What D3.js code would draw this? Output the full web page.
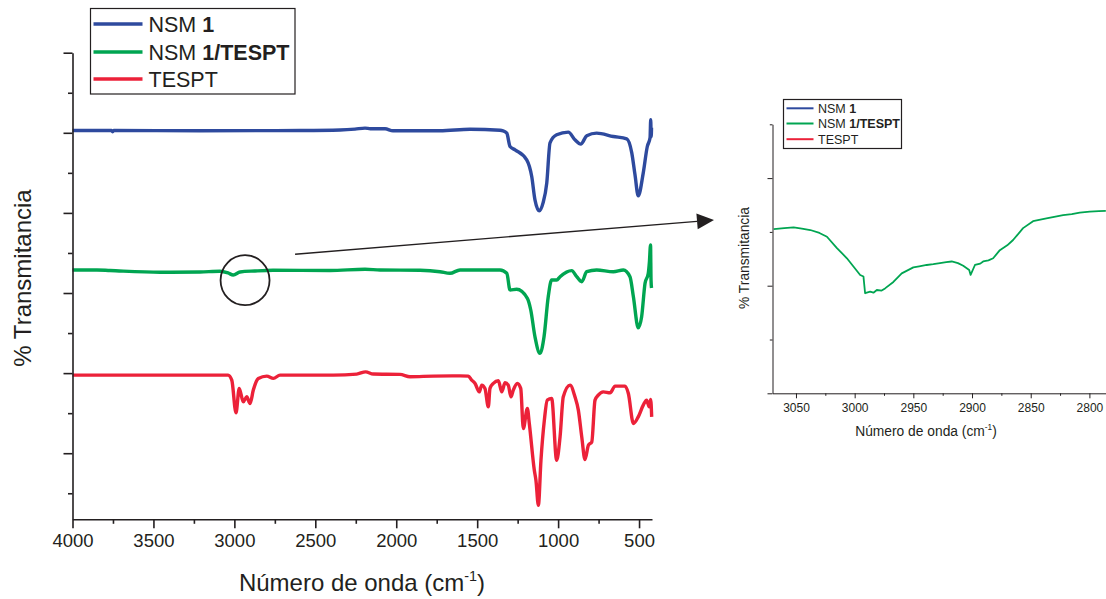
<!DOCTYPE html>
<html>
<head>
<meta charset="utf-8">
<script src="https://cdn.jsdelivr.net/npm/d3@7"></script>
<style>
  body { margin: 0; background: #fff; }
  text { font-family: "Liberation Sans", Arial, sans-serif; fill: #231f20; }
</style>
</head>
<body>
<svg id="chart" width="1106" height="599"></svg>
<script>
// FTIR spectra, values (transmittance in arbitrary units)
var nsmWave = [4000, 3760, 3752, 3744, 3212, 2594, 2347, 2255, 2193, 2160, 2129, 2069, 2020, 1853, 1730, 1544, 1359, 1341, 1317, 1297, 1266, 1194, 1163, 1143, 1116, 1093, 1070, 1050, 1009, 937, 896, 860, 823, 762, 659, 576, 545, 525, 505, 474, 449, 432, 428, 425, 423];
var nsmT = [40.29, 40.29, 40.13, 40.29, 40.25, 40.29, 40.35, 40.46, 40.59, 40.5, 40.5, 40.5, 40.25, 40.25, 40.25, 40.44, 40.31, 40.25, 39.96, 38.29, 37.88, 36.63, 34.54, 31.63, 30.25, 31.25, 33.75, 38.75, 39.75, 40.09, 39.13, 38.59, 39.63, 39.96, 39.54, 39.25, 37.5, 34.75, 32.13, 35, 38.29, 39.38, 41.63, 39.5, 40.63];

var mixWave = [4000, 3849, 3768, 3459, 3212, 3089, 3039, 3007, 2965, 2873, 2761, 2409, 2193, 2100, 1853, 1730, 1668, 1606, 1359, 1317, 1297, 1256, 1190, 1169, 1143, 1112, 1087, 1061, 1040, 1009, 988, 916, 885, 854, 823, 762, 659, 597, 556, 535, 505, 484, 463, 443, 436, 429, 426, 423];
var mixT = [22.88, 22.88, 22.81, 22.59, 22.63, 22.71, 22.5, 22.25, 22.63, 22.75, 22.84, 22.81, 22.96, 22.88, 22.84, 22.66, 22.46, 22.88, 22.88, 22.46, 20.38, 20.46, 19.34, 17.88, 14.54, 12.46, 14.54, 19.54, 21.63, 21.63, 22.04, 22.79, 22.04, 21.41, 22.66, 22.88, 22.66, 22.88, 22.04, 19.54, 15.66, 17.04, 21.21, 22.46, 23.88, 26, 21.63, 20.63];

var tesWave = [4000, 3212, 3039, 3016, 2990, 2970, 2945, 2924, 2903, 2883, 2852, 2800, 2759, 2718, 2389, 2244, 2189, 2142, 1977, 1915, 1771, 1606, 1555, 1534, 1513, 1487, 1472, 1452, 1431, 1421, 1400, 1369, 1348, 1328, 1308, 1291, 1277, 1252, 1231, 1215, 1190, 1178, 1147, 1137, 1122, 1106, 1085, 1067, 1040, 1009, 988, 968, 926, 896, 875, 854, 834, 813, 792, 772, 752, 721, 679, 648, 587, 566, 535, 505, 474, 453, 437, 428, 422];
var tesT = [9.75, 9.75, 9.75, 9.13, 5.04, 8.09, 6.41, 7.04, 6.21, 7.88, 9.34, 9.63, 9.34, 9.75, 9.75, 9.88, 10.16, 9.88, 9.84, 9.54, 9.63, 9.66, 9.63, 9.13, 8.71, 7.66, 8.5, 8.09, 5.79, 8.09, 8.71, 9.04, 7.66, 8.79, 8.5, 7.04, 7.88, 8.71, 8.09, 3.09, 5.59, 3.71, -2.13, -3.38, -6.5, -0.88, 4.13, 6.63, 6.84, -0.88, 2.04, 7.04, 8.5, 7.04, 5.38, 2.04, -0.79, 1, 1.41, 6.63, 7.25, 7.66, 7.54, 8.38, 8.38, 7.46, 3.71, 4.54, 6, 6.63, 5.79, 6.71, 4.54];

// zoom on NSM 1/TESPT, 3070-2785 cm-1
var zoomWave = [3069, 3060, 3052, 3045, 3037.8, 3030, 3023.6, 3015.1, 3006.6, 2995.3, 2992.5, 2991.1, 2986.8, 2984, 2981.1, 2977, 2974.1, 2967, 2959.9, 2950, 2945, 2938.6, 2933, 2927.3, 2922, 2917.3, 2912, 2907.5, 2902.4, 2901.2, 2897.5, 2893, 2890.5, 2886, 2882, 2876.3, 2870, 2865, 2856.5, 2848, 2836.6, 2830, 2822.4, 2815, 2808.2, 2799.7, 2792, 2786];
var zoomT = [3.05, 3.07, 3.085, 3.06, 3.035, 2.98, 2.91, 2.7, 2.51, 2.2, 2.17, 1.86, 1.89, 1.87, 1.92, 1.91, 1.95, 2.07, 2.23, 2.34, 2.36, 2.385, 2.4, 2.42, 2.44, 2.45, 2.42, 2.37, 2.29, 2.2, 2.385, 2.41, 2.45, 2.47, 2.51, 2.66, 2.75, 2.85, 3.07, 3.2, 3.25, 3.28, 3.31, 3.33, 3.36, 3.375, 3.385, 3.39];

var seriesNames = ["NSM ", "NSM ", "TESPT"];
var seriesBold = ["1", "1/TESPT", ""];
var colors = ["#2e4a9e", "#00a551", "#ec2139"];

var mainTicks = [4000, 3500, 3000, 2500, 2000, 1500, 1000, 500];
var mainMinor = [3750, 3250, 2750, 2250, 1750, 1250, 750];
var yMajor = [0, 10, 20, 30, 40, 50];
var yMinor = [-5, 5, 15, 25, 35, 45];
var zoomTicks = [3050, 3000, 2950, 2900, 2850, 2800];
var zoomMinor = [3025, 2975, 2925, 2875, 2825];
var zoomYMajor = [0, 2, 4];
var zoomYMinor = [1, 3, 5];

function pts(w, t) {
    return w.map(function(d, i) { return {w: d, t: t[i]}; });
}

var svg = d3.select("#chart");
var ink = "#231f20";
var fmt = d3.format("d");

// ---- main plot
var x = d3.scaleLinear().domain([4000, 420]).range([72.5, 652]);
var y = d3.scaleLinear().domain([-8.25, 50]).range([519.3, 52.7]);

var line = d3.line()
    .curve(d3.curveMonotoneX)
    .x(function(d) { return x(d.w); })
    .y(function(d) { return y(d.t); });

var spectra = [pts(nsmWave, nsmT), pts(mixWave, mixT), pts(tesWave, tesT)];
spectra.forEach(function(s, i) {
    svg.append("path")
        .datum(s)
        .attr("fill", "none")
        .attr("stroke", colors[i])
        .attr("stroke-width", 3.4)
        .attr("stroke-linejoin", "round")
        .attr("d", line);
});

function styleAxis(g) {
    g.selectAll("path, line").attr("stroke", ink).attr("stroke-width", 1.6);
    g.selectAll("text").attr("fill", ink).style("font-family", '"Liberation Sans", Arial, sans-serif');
}

var gx = svg.append("g").attr("transform", "translate(0,519.3)")
    .call(d3.axisBottom(x).tickValues(mainTicks).tickFormat(fmt).tickSize(9).tickSizeOuter(0).tickPadding(6));
gx.selectAll("text").style("font-size", "18.5px");
styleAxis(gx);
var gxm = svg.append("g").attr("transform", "translate(0,519.3)")
    .call(d3.axisBottom(x).tickValues(mainMinor).tickSize(4.5).tickFormat(""));
gxm.select(".domain").remove();
styleAxis(gxm);

var gy = svg.append("g").attr("transform", "translate(72.5,0)")
    .call(d3.axisLeft(y).tickValues(yMajor).tickSize(9).tickSizeOuter(0).tickFormat(""));
styleAxis(gy);
var gym = svg.append("g").attr("transform", "translate(72.5,0)")
    .call(d3.axisLeft(y).tickValues(yMinor).tickSize(4.5).tickFormat(""));
gym.select(".domain").remove();
styleAxis(gym);

function waveTitle(g, size) {
    g.append("tspan").text("Número de onda (cm");
    g.append("tspan").text("-1").attr("font-size", size * 0.6).attr("dy", -size * 0.42);
    g.append("tspan").text(")").attr("dy", size * 0.42);
}

var xt = svg.append("text")
    .attr("x", 362).attr("y", 591)
    .attr("text-anchor", "middle")
    .attr("font-size", 24);
waveTitle(xt, 24);

svg.append("text")
    .attr("transform", "translate(31,278) rotate(-90)")
    .attr("text-anchor", "middle")
    .attr("font-size", 24)
    .text("% Transmitancia");

// legend
function legend(x0, y0, w, h, rows, lineLen, gap, size, sw) {
    var lg = svg.append("g");
    lg.append("rect")
        .attr("x", x0).attr("y", y0).attr("width", w).attr("height", h)
        .attr("fill", "#fff").attr("stroke", ink).attr("stroke-width", 1.2);
    seriesNames.forEach(function(n, i) {
        var ry = rows[i];
        lg.append("line")
            .attr("x1", x0 + 3).attr("x2", x0 + 3 + lineLen)
            .attr("y1", ry).attr("y2", ry)
            .attr("stroke", colors[i]).attr("stroke-width", sw);
        var t = lg.append("text")
            .attr("x", x0 + 3 + lineLen + gap).attr("y", ry + size * 0.36)
            .attr("font-size", size);
        t.append("tspan").text(n);
        if (seriesBold[i]) t.append("tspan").attr("font-weight", "bold").text(seriesBold[i]);
    });
}
legend(90.5, 8.5, 204.5, 85.5, [24, 52, 79], 49, 6, 21.5, 3.6);

// highlight circle and arrow to the zoom
var cx = x(2934), cy = y(21.6);
svg.append("ellipse")
    .attr("cx", cx).attr("cy", cy).attr("rx", 24.5).attr("ry", 25)
    .attr("fill", "none").attr("stroke", ink).attr("stroke-width", 1.8);

var a0 = [cx + 50, cy - 26], a1 = [714, 220];
var dx = a1[0] - a0[0], dy = a1[1] - a0[1], len = Math.sqrt(dx * dx + dy * dy);
var ux = dx / len, uy = dy / len, hl = 17, hw = 8;
var bx = a1[0] - hl * ux, by = a1[1] - hl * uy;
svg.append("line")
    .attr("x1", a0[0]).attr("y1", a0[1]).attr("x2", bx).attr("y2", by)
    .attr("stroke", ink).attr("stroke-width", 1.4);
svg.append("path")
    .attr("d", "M" + a1 + "L" + [bx - hw * uy, by + hw * ux] + "L" + [bx + hw * uy, by - hw * ux] + "Z")
    .attr("fill", ink);

// ---- inset
var xi = d3.scaleLinear().domain([3070, 2785]).range([772.5, 1107]);
var yi = d3.scaleLinear().domain([0, 5]).range([393.3, 124.3]);

var zline = d3.line()
    .x(function(d) { return xi(d.w); })
    .y(function(d) { return yi(d.t); });

svg.append("path")
    .datum(pts(zoomWave, zoomT))
    .attr("fill", "none")
    .attr("stroke", colors[1])
    .attr("stroke-width", 1.8)
    .attr("stroke-linejoin", "round")
    .attr("d", zline);

function thin(g) {
    g.selectAll("path, line").attr("stroke", ink).attr("stroke-width", 1);
    g.selectAll("text").attr("fill", ink).style("font-family", '"Liberation Sans", Arial, sans-serif');
}
var ix = svg.append("g").attr("transform", "translate(0,393.3)")
    .call(d3.axisBottom(xi).tickValues(zoomTicks).tickFormat(fmt).tickSize(5).tickSizeOuter(0).tickPadding(5));
ix.selectAll("text").style("font-size", "12px");
thin(ix);
var ixm = svg.append("g").attr("transform", "translate(0,393.3)")
    .call(d3.axisBottom(xi).tickValues(zoomMinor).tickSize(2.5).tickFormat(""));
ixm.select(".domain").remove();
thin(ixm);
var iy = svg.append("g").attr("transform", "translate(772.5,0)")
    .call(d3.axisLeft(yi).tickValues(zoomYMajor).tickSize(5).tickSizeOuter(0).tickFormat(""));
thin(iy);
var iym = svg.append("g").attr("transform", "translate(772.5,0)")
    .call(d3.axisLeft(yi).tickValues(zoomYMinor).tickSize(2.7).tickFormat(""));
iym.select(".domain").remove();
thin(iym);

var ixt = svg.append("text")
    .attr("x", 926).attr("y", 436)
    .attr("text-anchor", "middle")
    .attr("font-size", 13.8);
waveTitle(ixt, 13.8);

svg.append("text")
    .attr("transform", "translate(749,258) rotate(-90)")
    .attr("text-anchor", "middle")
    .attr("font-size", 13.8)
    .text("% Transmitancia");

legend(783.5, 99.5, 118, 49, [108.3, 123.5, 139.2], 27, 4.5, 12.5, 2);
</script>
</body>
</html>
